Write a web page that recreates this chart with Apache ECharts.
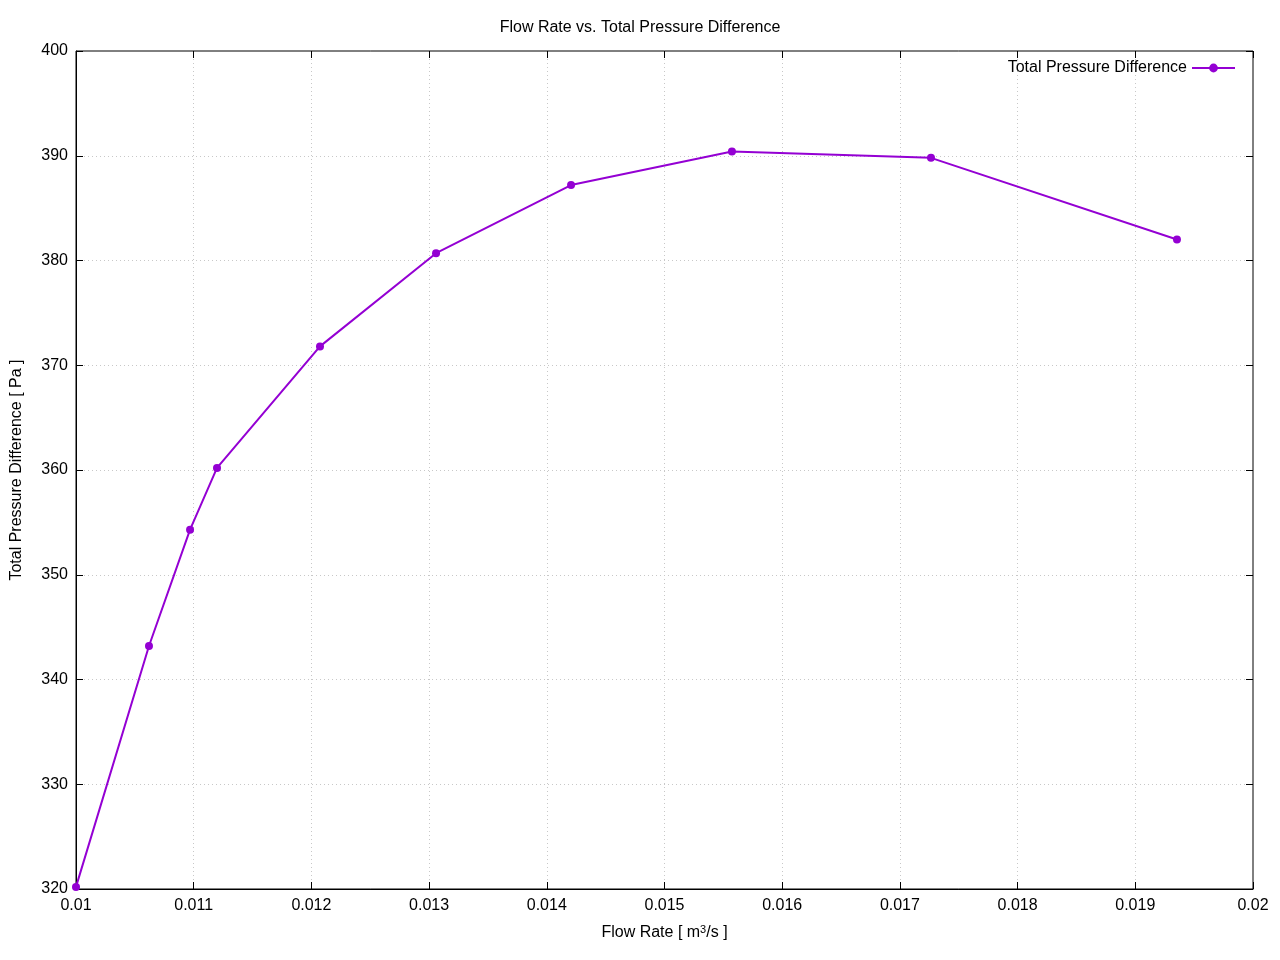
<!DOCTYPE html>
<html><head><meta charset="utf-8">
<script src="https://cdn.jsdelivr.net/npm/echarts@6/dist/echarts.min.js"></script>
<style>html,body{margin:0;padding:0;background:#fff}#c{width:1280px;height:960px}</style>
</head><body><div id="c"></div>
<script>
const flowRate = [0.01, 0.01062, 0.010969, 0.011198, 0.012073, 0.013059, 0.014206, 0.015573, 0.017264, 0.019354];
const pressureDiff = [320.2, 343.2, 354.3, 360.2, 371.8, 380.7, 387.2, 390.4, 389.8, 382.0];
const seriesName = 'Total Pressure Difference';
const titleText = 'Flow Rate vs. Total Pressure Difference';

const font = 'Liberation Sans, Arial, sans-serif';
const color = '#9400D3';
const data = flowRate.map((x, i) => [x, pressureDiff[i]]);
const gridLine = {show: true, showMinLine: false, showMaxLine: false, lineStyle: {color: '#c8c8c8', type: [1, 3], width: 1}};
const tick = {show: true, inside: true, length: 7, lineStyle: {color: '#000'}};
const chart = echarts.init(document.getElementById('c'), null, {renderer: 'canvas'});
chart.setOption({
  animation: false,
  backgroundColor: '#fff',
  title: {text: titleText, left: 'center', top: 15, textStyle: {fontFamily: font, fontSize: 16, fontWeight: 'normal', color: '#000'}},
  legend: {
    data: [seriesName], right: 39, top: 55, align: 'right', itemWidth: 43, itemHeight: 11, itemGap: 10,
    textStyle: {fontFamily: font, fontSize: 16, color: '#000'}
  },
  grid: {left: 76, right: 27, top: 51, bottom: 71, show: true, borderColor: '#000', borderWidth: 1},
  xAxis: [{
    type: 'value', min: 0.01, max: 0.02, interval: 0.001,
    name: 'Flow Rate [ m{sup|3}/s ]', nameLocation: 'middle', nameGap: 35,
    nameTextStyle: {fontFamily: font, fontSize: 16, color: '#000', rich: {sup: {fontFamily: font, fontSize: 11, verticalAlign: 'top', padding: [0, 0, 7, 0], color: '#000'}}},
    axisLine: {lineStyle: {color: '#000'}}, axisTick: tick, splitLine: gridLine,
    axisLabel: {fontFamily: font, fontSize: 16, color: '#000', margin: 9, formatter: v => String(+v.toFixed(3))}
  }, {
    type: 'value', position: 'top', min: 0.01, max: 0.02, interval: 0.001,
    axisLine: {show: false}, axisTick: tick, axisLabel: {show: false}, splitLine: {show: false}
  }],
  yAxis: [{
    type: 'value', min: 320, max: 400, interval: 10,
    name: 'Total Pressure Difference [ Pa ]', nameLocation: 'middle', nameGap: 51,
    nameTextStyle: {fontFamily: font, fontSize: 16, color: '#000'},
    axisLine: {lineStyle: {color: '#000'}}, axisTick: tick, splitLine: gridLine,
    axisLabel: {fontFamily: font, fontSize: 16, color: '#000', margin: 8}
  }, {
    type: 'value', position: 'right', min: 320, max: 400, interval: 10,
    axisLine: {show: false}, axisTick: tick, axisLabel: {show: false}, splitLine: {show: false}
  }],
  series: [{
    name: seriesName, type: 'line', data: data, xAxisIndex: 0, yAxisIndex: 0,
    symbol: 'circle', symbolSize: 8, showSymbol: true,
    itemStyle: {color: color}, lineStyle: {color: color, width: 2}
  }]
});
</script></body></html>
